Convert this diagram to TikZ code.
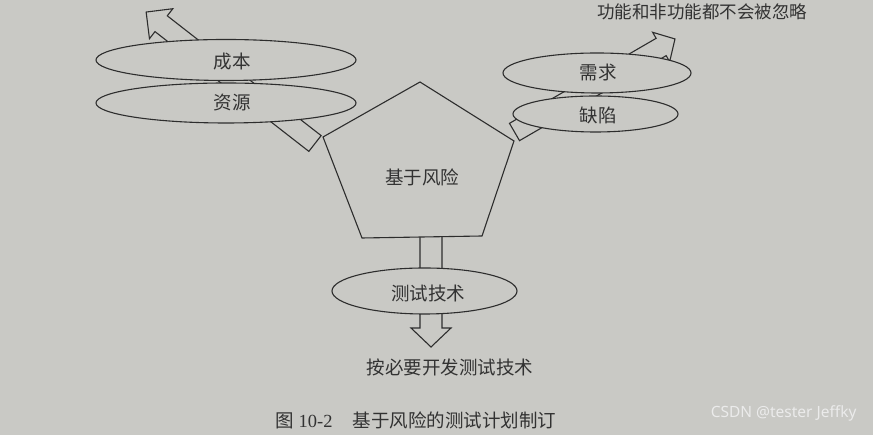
\documentclass[tikz,border=0pt]{standalone}
\usepackage{fontspec}
\setmainfont{Liberation Serif}
\newfontfamily\cjk{Noto Sans CJK SC}
\newfontfamily\wmfont{Noto Sans}
\usetikzlibrary{shapes.geometric}
\definecolor{paper}{RGB}{201,201,197}
\definecolor{ink}{RGB}{45,45,45}
\definecolor{txt}{RGB}{50,50,50}
\tikzset{
  arr/.style={draw=ink, line width=1.1pt, fill=paper, line join=miter},
  ell/.style={ellipse, draw=ink, line width=1.1pt, fill=paper, inner sep=0pt},
  lbl/.style={font=\cjk\fontsize{18.5}{20}\selectfont, text=txt},
  note/.style={font=\cjk\fontsize{17.5}{19}\selectfont, text=txt},
}
\newcommand{\blkarrow}[6]{%
  \begin{scope}[shift={#1}, rotate=#2]
    \draw[arr] (0,-#4) -- ({#3-#6},-#4) -- ({#3-#6},-#5) -- (#3,0) -- ({#3-#6},#5) -- ({#3-#6},#4) -- (0,#4) -- cycle;
  \end{scope}}
\begin{document}
\begin{tikzpicture}[x=1pt,y=1pt]
\useasboundingbox (0,0) rectangle (873,435);
\fill[paper] (0,0) rectangle (873,435);

% block arrows
\blkarrow{(315,291.5)}{142.1}{214}{10}{19}{19}
\blkarrow{(514.5,303)}{30.1}{185.5}{10}{17}{16}
\blkarrow{(431,200)}{-90}{112}{11}{20}{19}

% ellipses
\node[ell, minimum width=260pt, minimum height=41pt] (cb) at (226,375) {};
\node[ell, minimum width=260pt, minimum height=40pt] (zy) at (226,332) {};
\node[ell, minimum width=188pt, minimum height=40pt] (xq) at (597,362) {};
\node[ell, minimum width=165pt, minimum height=36pt] (qx) at (595.5,321) {};
\node[ell, minimum width=185pt, minimum height=46pt] (js) at (424.5,144) {};

\node[lbl] at (232,373) {成本};
\node[lbl] at (232,332) {资源};
\node[lbl] at (598,362) {需求};
\node[lbl] at (598,320) {缺陷};
\node[lbl] at (428,142) {测试技术};

% pentagon
\coordinate (pt) at (420,353);
\coordinate (pl) at (323,298);
\coordinate (pr) at (514,294);
\coordinate (pbr) at (482,199);
\coordinate (pbl) at (362,197);
\draw[arr] (pt) -- (pr) -- (pbr) -- (pbl) -- (pl) -- cycle;
\node[lbl] (risk) at (422,258) {基于风险};

% notes
\node[note] (top) at (702,423) {功能和非功能都不会被忽略};
\node[lbl] (bot) at (450,68) {按必要开发测试技术};
\node[font=\fontsize{18.5}{20}\selectfont, text=txt, anchor=west] (cap) at (272,15)
  {{\cjk 图} 10-2\hspace{20pt}{\cjk 基于风险的测试计划制订}};

% watermark
\node[font=\wmfont\fontsize{15.5}{17}\selectfont, text=white!92!black, anchor=east] (wm) at (860,22) {CSDN @tester Jeffky};
\end{tikzpicture}
\end{document}
